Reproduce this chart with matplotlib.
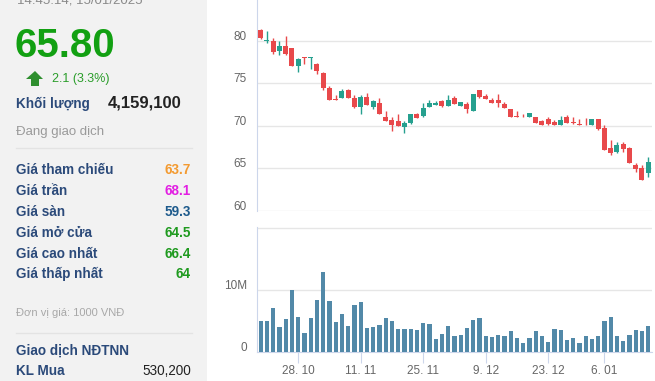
import matplotlib
matplotlib.use('Agg')
import matplotlib.pyplot as plt
from matplotlib.patches import Polygon, Rectangle
from matplotlib.transforms import ScaledTranslation
import numpy as np
import pandas as pd

W, H = 655, 381

# trading days 18.10.2024 - 15.01.2025 (1.1 is a holiday)
days = [d for d in pd.bdate_range('2024-10-18', '2025-01-15') if d != pd.Timestamp('2025-01-01')]
tick_days = ['2024-10-28', '2024-11-11', '2024-11-25', '2024-12-09', '2024-12-23', '2025-01-06']

opens = [81.3, 80.0, 80.0, 78.85, 79.4, 79.1, 77.1, 78.0, 77.95, 77.3,
         76.2, 74.5, 73.15, 73.3, 74.2, 73.3, 72.2, 73.45, 72.25, 72.65,
         71.1, 70.75, 70.6, 69.85, 70.35, 71.35, 71.15, 72.2, 72.5, 72.9,
         72.35, 73.25, 72.35, 72.55, 71.8, 74.2, 73.5, 73.0, 73.0, 72.6,
         72.0, 71.2, 71.05, 71.05, 71.0, 70.55, 70.8, 70.45, 70.1, 71.1,
         70.45, 70.25, 70.15, 70.05, 70.8, 69.75, 67.35, 66.95, 67.85, 67.35,
         65.45, 65.05, 64.5]
highs = [81.4, 81.2, 80.3, 80.0, 80.6, 79.2, 77.95, 78.1, 78.05, 77.45,
         76.3, 74.7, 73.6, 74.35, 74.3, 73.6, 73.6, 73.9, 73.0, 73.25,
         71.7, 71.1, 71.4, 70.55, 71.45, 71.55, 72.75, 73.1, 72.9, 73.05,
         73.6, 73.5, 72.8, 72.8, 73.75, 74.2, 73.7, 73.25, 73.7, 72.8,
         72.0, 71.75, 71.4, 71.5, 71.1, 70.65, 71.0, 70.65, 71.2, 71.3,
         71.05, 70.8, 70.9, 70.8, 70.8, 70.15, 68.3, 68.1, 68.15, 67.5,
         65.7, 65.4, 66.4]
lows = [80.2, 79.7, 78.5, 78.3, 78.35, 77.0, 76.3, 77.3, 76.7, 76.1,
        74.2, 73.1, 73.0, 73.3, 73.3, 72.1, 71.4, 72.45, 72.0, 71.4,
        70.55, 69.4, 69.95, 69.15, 70.25, 70.9, 71.1, 72.2, 72.45, 72.2,
        72.3, 72.55, 72.35, 71.55, 71.8, 73.3, 73.2, 72.75, 72.2, 72.15,
        71.05, 71.0, 71.0, 71.05, 70.35, 70.15, 70.1, 70.05, 70.1, 70.4,
        70.25, 70.1, 70.05, 70.05, 69.55, 67.2, 66.6, 66.8, 66.95, 65.6,
        64.55, 63.7, 64.0]
closes = [80.3, 80.15, 78.7, 79.4, 78.4, 77.1, 77.9, 77.95, 78.0, 76.5,
          74.4, 73.1, 73.0, 74.1, 73.3, 72.2, 73.45, 72.45, 72.9, 71.4,
          70.55, 70.1, 69.95, 70.3, 71.4, 70.95, 72.1, 72.75, 72.75, 72.35,
          73.1, 72.55, 72.8, 72.0, 73.75, 73.4, 73.2, 72.75, 72.75, 72.15,
          71.05, 71.0, 71.0, 71.5, 70.35, 70.15, 70.25, 70.05, 70.7, 70.4,
          70.35, 70.1, 70.05, 70.8, 69.65, 67.2, 66.8, 67.7, 67.3, 65.6,
          64.9, 63.7, 65.8]
volumes = [5.0, 5.0, 7.1, 4.0, 5.3, 10.0, 5.6, 3.1, 5.5, 8.4,
           12.9, 8.2, 4.8, 6.1, 4.2, 7.6, 8.1, 3.9, 4.0, 4.4,
           5.5, 5.0, 3.7, 3.7, 3.7, 3.5, 4.7, 4.5, 2.1, 2.9,
           4.2, 2.6, 2.7, 3.9, 5.2, 5.5, 2.6, 2.4, 2.7, 2.6,
           3.4, 2.3, 1.5, 2.3, 3.4, 2.6, 1.6, 3.7, 3.5, 1.9,
           2.3, 1.5, 2.6, 2.1, 2.6, 5.0, 5.6, 2.6, 1.8, 2.7,
           3.5, 3.4, 4.16]  # millions

price_ticks = [60, 65, 70, 75, 80]

info_labels = ['Giá tham chiếu', 'Giá trần', 'Giá sàn', 'Giá mở cửa', 'Giá cao nhất', 'Giá thấp nhất']
info_values = ['63.7', '68.1', '59.3', '64.5', '66.4', '64']
info_colors = ['#f39a30', '#e21fe2', '#1d5a8c', '#1f9a1f', '#1f9a1f', '#1f9a1f']

UP = '#26a08f'
DOWN = '#e8494b'
VOL = '#5289a8'
GRID = '#e6e6e6'
AXIS = '#ccd6eb'
LBL = '#2b4a7a'

plt.rcParams['font.family'] = ['Liberation Sans', 'DejaVu Sans']

fig = plt.figure(figsize=(W / 100, H / 100), dpi=100)


def fx(x):
    return x / W


def fy(y):
    return 1 - y / H


# --- left info panel ---
fig.patches.append(Rectangle((0, 0), fx(207), 1, transform=fig.transFigure,
                             facecolor='#f2f2f2', edgecolor='none', zorder=0))

fig.text(fx(17), fy(3.5), '14:45:14, 15/01/2025', fontsize=9.5, color='#8a8a8a', va='baseline')
fig.text(fx(15), fy(57), '65.80', fontsize=29, fontweight='bold', color='#12a012', va='baseline')

arrow = [(26, 79), (35, 71), (43, 79), (39, 79), (39, 86), (31, 86), (31, 79)]
fig.patches.append(Polygon([(fx(a), fy(b)) for a, b in arrow], closed=True,
                           transform=fig.transFigure, facecolor='#2f8f2f', edgecolor='none'))
fig.text(fx(52), fy(82), '2.1 (3.3%)', fontsize=9, color='#2a9d2a', va='baseline')

fig.text(fx(16), fy(108), 'Khối lượng', fontsize=9.75, fontweight='bold', color=LBL, va='baseline')
fig.text(fx(181), fy(107.5), '4,159,100', fontsize=12, fontweight='bold', color='#222222',
         ha='right', va='baseline')
fig.text(fx(16), fy(134.5), 'Đang giao dịch', fontsize=9.5, color='#9a9a9a', va='baseline')

for ysep in (148.3, 333.3):
    fig.add_artist(plt.Line2D([fx(16), fx(192)], [fy(ysep), fy(ysep)], color='#e3e3e3', lw=1))

for k, (lab, val, col) in enumerate(zip(info_labels, info_values, info_colors)):
    yb = 174.3 + 20.8 * k
    fig.text(fx(16), fy(yb), lab, fontsize=9.75, fontweight='bold', color=LBL, va='baseline')
    fig.text(fx(191), fy(yb), val, fontsize=9.75, fontweight='bold', color=col,
             ha='right', va='baseline')

fig.text(fx(16), fy(315.7), 'Đơn vị giá: 1000 VNĐ', fontsize=8, color='#a8a8a8', va='baseline')
fig.text(fx(16), fy(355), 'Giao dịch NĐTNN', fontsize=9.75, fontweight='bold', color=LBL, va='baseline')
fig.text(fx(16), fy(375), 'KL Mua', fontsize=9.75, fontweight='bold', color=LBL, va='baseline')
fig.text(fx(191), fy(375), '530,200', fontsize=9.75, color='#222222', ha='right', va='baseline')

# --- charts ---
x = np.arange(len(days))
o = np.array(opens)
c = np.array(closes)
colors = [UP if cc >= oo else DOWN for oo, cc in zip(o, c)]
left, right = 256.7, 652
xlim = (-0.64, 62.6)
lift = ScaledTranslation(0, 5.5 / 100, fig.dpi_scale_trans)  # labels sit a bit above their gridline

ax = fig.add_axes([fx(left), fy(211), fx(right - left), 211 / H])
ax.set_xlim(*xlim)
ax.set_ylim(60, 84.8)
ax.vlines(x, lows, highs, colors=colors, lw=1, zorder=3)
body_lo = np.minimum(o, c)
body_h = np.maximum(np.abs(c - o), 0.1)
ax.bar(x, body_h, bottom=body_lo, width=0.8, color=colors, zorder=4)
ax.set_yticks(price_ticks)
ax.set_yticklabels([str(v) for v in price_ticks])
ax.set_xticks([])
ax.grid(axis='y', color=GRID, lw=1)
ax.set_axisbelow(True)
for s in ('top', 'right', 'bottom'):
    ax.spines[s].set_visible(False)
ax.spines['left'].set_color(AXIS)
ax.tick_params(axis='y', length=0, pad=7, labelsize=8.5, labelcolor='#666666')
for lab in ax.get_yticklabels():
    lab.set_transform(lab.get_transform() + lift)

axv = fig.add_axes([fx(left), fy(352), fx(right - left), 125 / H])
axv.set_xlim(*xlim)
axv.set_ylim(0, 20.2)
axv.bar(x, volumes, width=0.68, color=VOL, zorder=3)
axv.set_yticks([0, 10, 20])
axv.set_yticklabels(['0', '10M', ''])
tick_idx = [days.index(pd.Timestamp(d)) for d in tick_days]
axv.set_xticks(tick_idx)
axv.set_xticklabels([f'{days[i].day}. {days[i].month:02d}' for i in tick_idx])
axv.grid(axis='y', color=GRID, lw=1)
axv.set_axisbelow(True)
for s in ('top', 'right'):
    axv.spines[s].set_visible(False)
axv.spines['left'].set_color(AXIS)
axv.spines['bottom'].set_color(AXIS)
axv.tick_params(axis='y', length=0, pad=7, labelsize=8.5, labelcolor='#666666')
axv.tick_params(axis='x', length=8, color=AXIS, pad=1, labelsize=8.5, labelcolor='#666666')
for lab in axv.get_yticklabels():
    lab.set_transform(lab.get_transform() + lift)

fig.savefig('out.png', dpi=100)
